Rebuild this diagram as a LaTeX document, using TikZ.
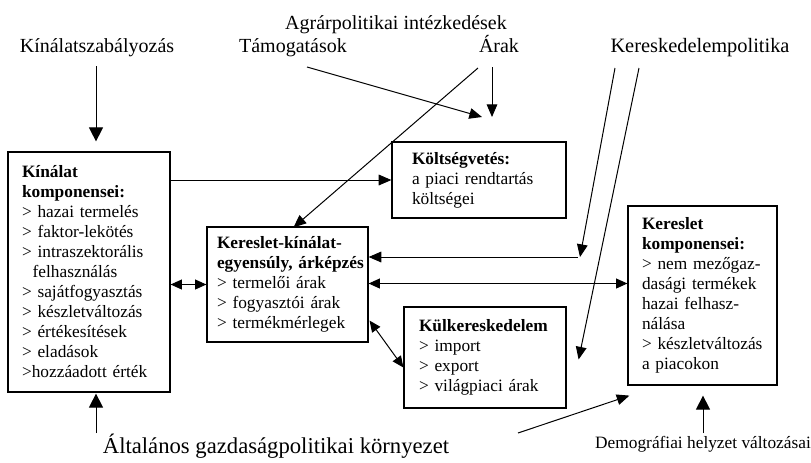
\documentclass[tikz,border=0pt]{standalone}
\usepackage{fontspec}
\setmainfont{Liberation Serif}
\usetikzlibrary{positioning}
\usetikzlibrary{calc}
\usetikzlibrary{arrows.meta}

\newcommand\boxtextfont{\fontsize{13}{15}\selectfont}
\newcommand\lblfont{\fontsize{15}{18}\selectfont}

\begin{document}
\begin{tikzpicture}[x=0.75pt, y=-0.75pt, line width=0.75pt,
        box/.style={draw, line width=0.9pt, align=left, inner sep=0pt, font=\boxtextfont},
        lbl/.style={anchor=base, inner sep=0pt, font=\lblfont},
        arr/.style={-{Triangle[length=9.5pt, width=8pt]}},
        bigarr/.style={-{Triangle[length=10.5pt, width=10.5pt]}},
        dblarr/.style={{Triangle[length=8.5pt, width=7.5pt]}-{Triangle[length=8.5pt, width=7.5pt]}}]
        \useasboundingbox (0,0) rectangle (811,462);
        % outside labels
        \node [lbl] (agrar) at (396,29) {Agrárpolitikai intézkedések};
        \node [lbl] (kinszab) at (97,52) {Kínálatszabályozás};
        \node [lbl] (tamog) at (293,52) {Támogatások};
        \node [lbl] (arak) at (499,52) {Árak};
        \node [lbl, font=\fontsize{15.3}{18}\selectfont] (kerpol) at (700,52) {Kereskedelempolitika};
        \node [lbl, font=\fontsize{17}{20}\selectfont] (altal) at (276,453) {Általános gazdaságpolitikai környezet};
        \node [lbl, font=\boxtextfont] (demog) at (703,448) {Demográfiai helyzet változásai};
        % boxes
        \node [box, minimum width=121.5pt, minimum height=180pt, text width=121.5pt] (kinalat) at (89,272) {\leftskip=10.5pt\relax
            \textbf{Kínálat}\\ \textbf{komponensei:}\\ > hazai termelés\\ > faktor-lekötés\\ > intraszektorális\\
            \hspace*{8pt}felhasználás\\ > sajátfogyasztás\\ > készletváltozás\\ > értékesítések\\ > eladások\\ >hozzáadott érték\par};
        \node [box, minimum width=130.5pt, minimum height=57pt, text width=130.5pt] (koltseg) at (479,180) {\leftskip=15pt\relax
            \textbf{Költségvetés:}\\ a piaci rendtartás\\ költségei\par};
        \node [box, minimum width=120.75pt, minimum height=86.25pt, text width=120.75pt] (egyensuly) at (287.5,284.5) {\leftskip=7.5pt\relax
            \textbf{Kereslet-kínálat-}\\ \textbf{egyensúly, árképzés}\\ > termelői árak\\ > fogyasztói árak\\ > termékmérlegek\par};
        \node [box, minimum width=121.5pt, minimum height=75.75pt, text width=121.5pt] (kulker) at (485,357.5) {\leftskip=11.25pt\relax
            \textbf{Külkereskedelem}\\ > import\\ > export\\ > világpiaci árak\par};
        \node [box, minimum width=111.75pt, minimum height=134.25pt, text width=111.75pt] (kereslet) at (702.5,295.5) {\leftskip=10.5pt\relax
            \textbf{Kereslet}\\ \textbf{komponensei:}\\ > nem mezőgaz-\\ dasági termékek\\ hazai felhasz-\\ nálása\\ > készletváltozás\\ a piacokon\par};
        % free ends
        \coordinate (budgetL) at (482,117);
        \coordinate (budgetR) at (492,117);
        \coordinate (kpjoin) at (580,257);
        % policy arrows
        \draw[bigarr] ($(kinszab.base)+(-1,14)$) -- ($(kinszab.base |- kinalat.north)+(-1,-10)$);
        \draw[arr] ($(tamog.base)+(14,15)$) -- (budgetL);
        \draw[arr] ($(arak.base)+(-7,15)$) -- (budgetR);
        \draw[arr] ($(arak.base)+(-21,16)$) -- ($(egyensuly.north)+(6,1)$);
        \draw[arr] ($(kerpol.base)+(-85,16)$) -- (kpjoin);
        \draw[arr] ($(kpjoin)+(-2,0)$) -- (kpjoin -| egyensuly.east);
        \draw[arr] ($(kerpol.base)+(-61,16)$) -- ($(kulker.east)+(12,2)$);
        % box to box
        \draw[arr] (kinalat.east |- koltseg.west) -- (koltseg.west);
        \draw[dblarr] (kinalat.east |- egyensuly.west) -- (egyensuly.west);
        \draw[dblarr] ($(egyensuly.east)+(0,-1)$) -- ($(egyensuly.east -| kereslet.west)+(0,-1)$);
        \draw[dblarr] ($(egyensuly.south east)+(1,-22)$) -- ($(kulker.west)+(0,10)$);
        % environment arrows
        \draw[bigarr] ($(altal.base -| kinalat.south)+(7,-20)$) -- ($(kinalat.south)+(7,1)$);
        \draw[arr] ($(altal.base)+(242,-20)$) -- ($(kereslet.south west)+(2,10)$);
        \draw[bigarr] ($(demog.base)+(0,-15)$) -- ($(kereslet.south)+(0.5,10)$);
\end{tikzpicture}
\end{document}
